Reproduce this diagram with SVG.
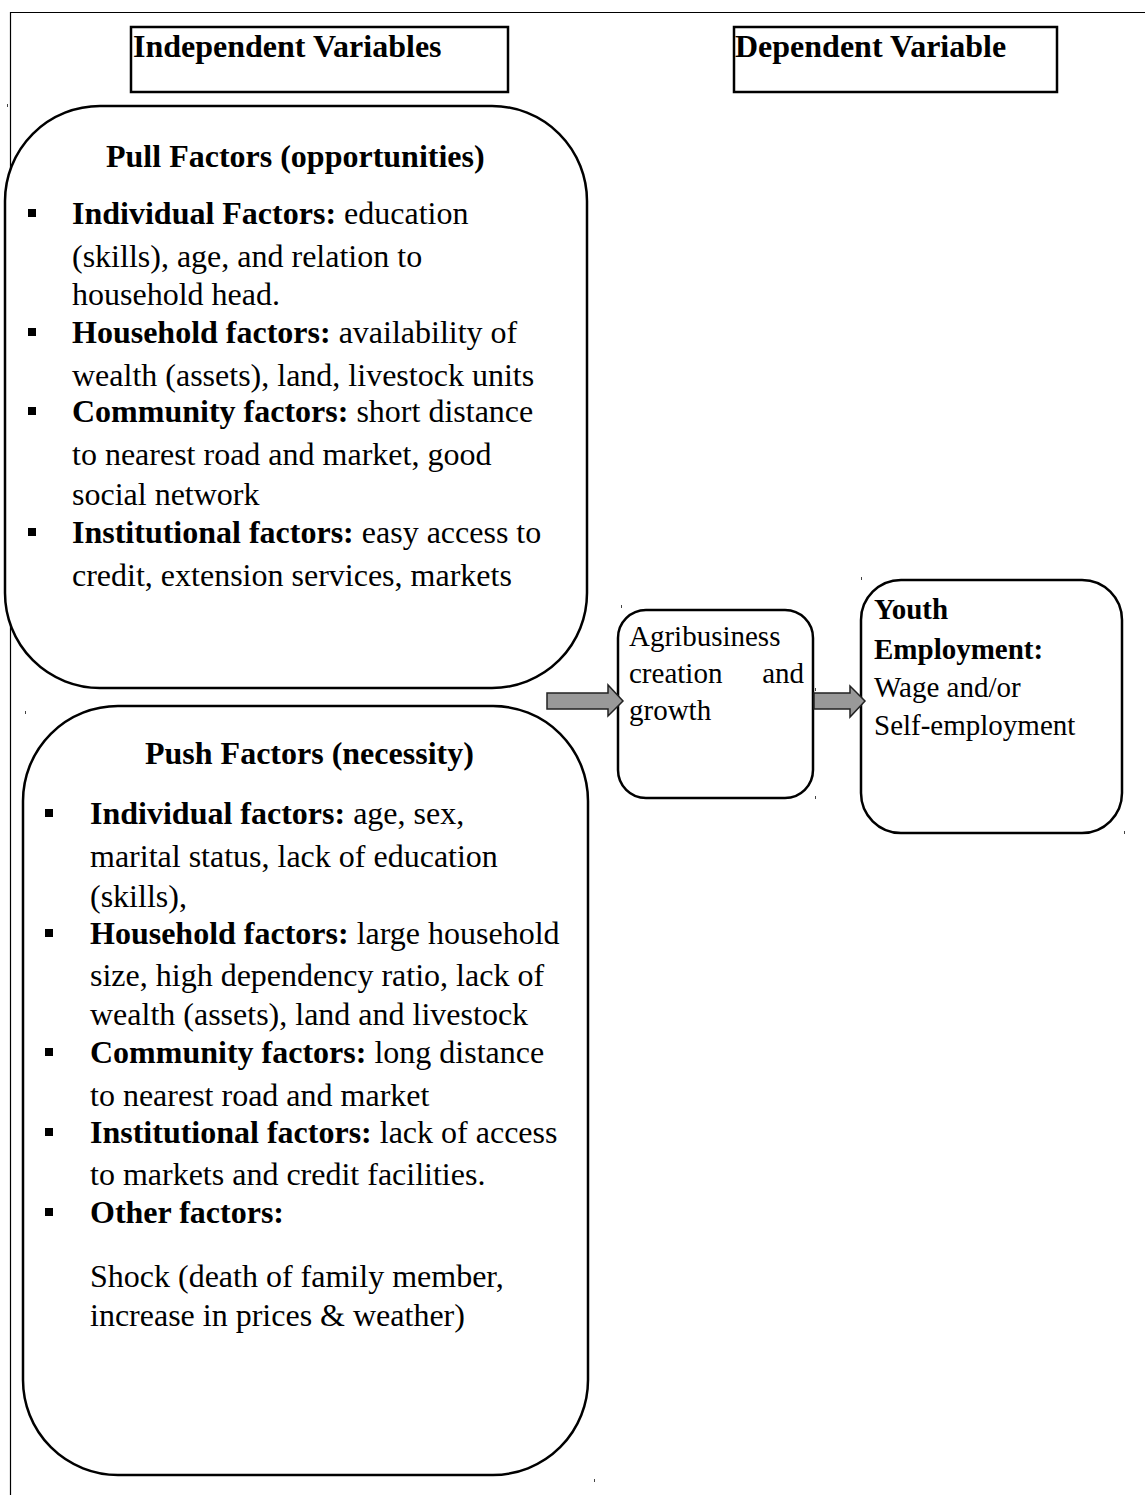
<svg xmlns="http://www.w3.org/2000/svg" width="1145" height="1495" viewBox="0 0 1145 1495">
<style>
text{font-family:"Liberation Serif","Times New Roman",serif;fill:#000}
.t{font-size:32px}
.s{font-size:29px}
.b{font-weight:bold}
.box{fill:#fff;stroke:#000;stroke-width:2.5}
.hdr{fill:#fff;stroke:#000;stroke-width:2.5}
.arr{fill:#999;stroke:#222;stroke-width:1.5;stroke-linejoin:miter}
.frame{stroke:#000;stroke-width:1.2;fill:none}
.mk{fill:#444}
</style>
<defs>
<rect id="bul" width="8" height="8" fill="#000"/>
</defs>
<rect width="1145" height="1495" fill="#fff"/>
<g id="frame">
<path class="frame" d="M10.5,1495 V12.5 H1145"/>
</g>
<g id="hdr-independent">
<rect class="hdr" x="131" y="27" width="377" height="65"/>
<text class="t b" x="133" y="57">Independent Variables</text>
</g>
<g id="hdr-dependent">
<rect class="hdr" x="734" y="27" width="323" height="65"/>
<text class="t b" x="735" y="57">Dependent Variable</text>
</g>
<g id="pull">
<rect class="box" x="5" y="106" width="582" height="582" rx="95" ry="95"/>
<text class="t b" x="106" y="167">Pull Factors (opportunities)</text>
<use href="#bul" x="28" y="209"/>
<text class="t" x="72" y="224"><tspan class="b">Individual Factors:</tspan> education</text>
<text class="t" x="72" y="267">(skills), age, and relation to</text>
<text class="t" x="72" y="305">household head.</text>
<use href="#bul" x="28" y="328"/>
<text class="t" x="72" y="343"><tspan class="b">Household factors:</tspan> availability of</text>
<text class="t" x="72" y="386">wealth (assets), land, livestock units</text>
<use href="#bul" x="28" y="407"/>
<text class="t" x="72" y="422"><tspan class="b">Community factors:</tspan> short distance</text>
<text class="t" x="72" y="465">to nearest road and market, good</text>
<text class="t" x="72" y="505">social network</text>
<use href="#bul" x="28" y="528"/>
<text class="t" x="72" y="543"><tspan class="b">Institutional factors:</tspan> easy access to</text>
<text class="t" x="72" y="586">credit, extension services, markets</text>
</g>
<g id="push">
<rect class="box" x="23" y="706" width="565" height="769" rx="95" ry="95"/>
<text class="t b" x="145" y="764">Push Factors (necessity)</text>
<use href="#bul" x="45" y="809"/>
<text class="t" x="90" y="824"><tspan class="b">Individual factors:</tspan> age, sex,</text>
<text class="t" x="90" y="867">marital status, lack of education</text>
<text class="t" x="90" y="907">(skills),</text>
<use href="#bul" x="45" y="929"/>
<text class="t" x="90" y="944"><tspan class="b">Household factors:</tspan> large household</text>
<text class="t" x="90" y="986">size, high dependency ratio, lack of</text>
<text class="t" x="90" y="1025">wealth (assets), land and livestock</text>
<use href="#bul" x="45" y="1048"/>
<text class="t" x="90" y="1063"><tspan class="b">Community factors:</tspan> long distance</text>
<text class="t" x="90" y="1106">to nearest road and market</text>
<use href="#bul" x="45" y="1128"/>
<text class="t" x="90" y="1143"><tspan class="b">Institutional factors:</tspan> lack of access</text>
<text class="t" x="90" y="1185">to markets and credit facilities.</text>
<use href="#bul" x="45" y="1208"/>
<text class="t b" x="90" y="1223">Other factors:</text>
<text class="t" x="90" y="1287">Shock (death of family member,</text>
<text class="t" x="90" y="1326">increase in prices &amp; weather)</text>
</g>
<g id="agribusiness">
<rect class="box" x="618" y="610" width="195" height="188" rx="28" ry="28"/>
<text class="s" x="629" y="646">Agribusiness</text>
<text class="s" x="629" y="683">creation</text>
<text class="s" x="804" y="683" text-anchor="end">and</text>
<text class="s" x="629" y="720">growth</text>
</g>
<g id="youth">
<rect class="box" x="861" y="580" width="261" height="253" rx="40" ry="40"/>
<text class="s b" x="874" y="619">Youth</text>
<text class="s b" x="874" y="659">Employment:</text>
<text class="s" x="874" y="697">Wage and/or</text>
<text class="s" x="874" y="735">Self-employment</text>
</g>
<g id="connectors">
<path class="arr" d="M547,693 H608 V685 L623,701 L608,716 V709 H547 Z"/>
<path class="arr" d="M814,693 H850 V686 L865,701 L850,717 V709 H814 Z"/>
</g>
<g id="marks">
<rect class="mk" x="7" y="104" width="1" height="3"/>
<rect class="mk" x="25" y="711" width="1" height="3"/>
<rect class="mk" x="621" y="605" width="1" height="3"/>
<rect class="mk" x="861" y="577" width="1" height="3"/>
<rect class="mk" x="815" y="688" width="1" height="3"/>
<rect class="mk" x="815" y="796" width="1" height="3"/>
<rect class="mk" x="1124" y="831" width="1" height="3"/>
<rect class="mk" x="594" y="1479" width="1" height="3"/>
</g>
</svg>
